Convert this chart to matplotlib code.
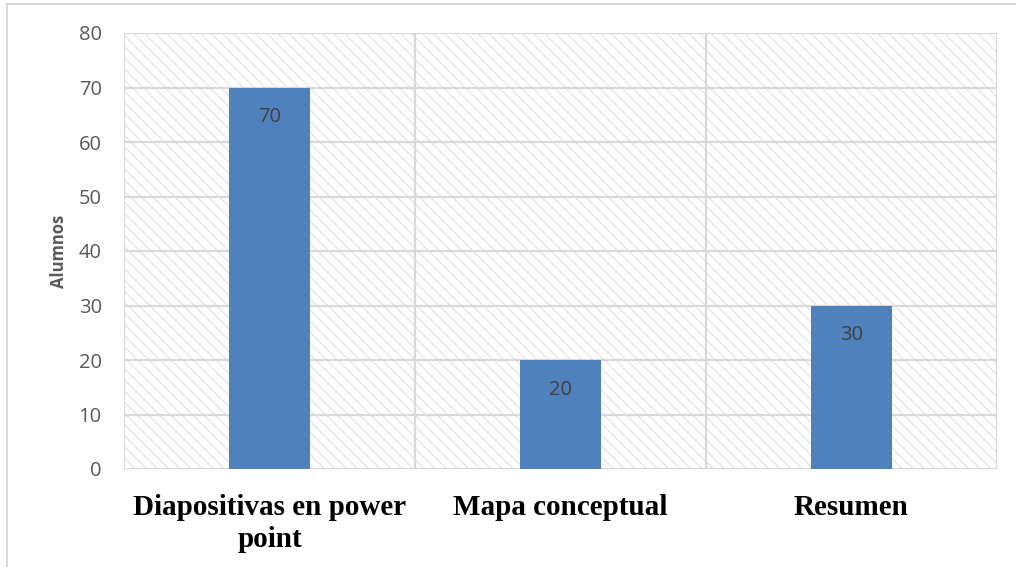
import matplotlib
matplotlib.use("Agg")
import matplotlib.pyplot as plt
from matplotlib.patches import Rectangle
from matplotlib.lines import Line2D
import numpy as np

categories = ["Diapositivas en power\npoint", "Mapa conceptual", "Resumen"]
values = [70, 20, 30]
yticks = [0, 10, 20, 30, 40, 50, 60, 70, 80]
ylabel = "Alumnos"

plt.rcParams['hatch.linewidth'] = 1.0
plt.rcParams['hatch.color'] = '#e6e6e6'

fig = plt.figure(figsize=(10.16, 5.67), dpi=100)
ax = fig.add_axes([124/1016, 1-469/567, (997-124)/1016, (469-33)/567])

x = np.arange(len(categories))
ax.set_xlim(-0.5, len(categories)-0.5)
ax.set_ylim(0, 80)

# hatched background
bg = Rectangle((0, 0), 1, 1, transform=ax.transAxes, facecolor='white',
               edgecolor='#e6e6e6', hatch='\\\\\\', linewidth=0, zorder=0)
ax.add_patch(bg)

ax.set_yticks(yticks)
ax.yaxis.grid(True, color='#d9d9d9', linewidth=1.6, zorder=1)
for b in np.arange(-0.5, len(categories), 1.0):
    ax.axvline(b, color='#d9d9d9', linewidth=1.6, zorder=1)
ax.set_axisbelow(True)

bars = ax.bar(x, values, width=0.275, color='#4F81BD', zorder=2)
for xi, v in zip(x, values):
    ax.text(xi, v - 3.6, str(v), ha='center', va='top', fontsize=14.5,
            family='Open Sans', color='#404040', zorder=3)

for s in ax.spines.values():
    s.set_visible(False)

ax.set_xticks(x)
ax.set_xticklabels(categories, family='Liberation Serif', fontweight='bold',
                   fontsize=21, color='black', linespacing=1.25)
ax.tick_params(axis='x', length=0, pad=18)
ax.tick_params(axis='y', length=0, pad=16, labelsize=14.5, labelcolor='#595959')
for lab in ax.get_yticklabels():
    lab.set_family('Open Sans')

ax.set_ylabel(ylabel, family='Open Sans', fontweight='bold', fontsize=12,
              color='#595959', labelpad=8)

# figure border
fig.add_artist(Line2D([7/1016, 7/1016], [0, 1-4/567], transform=fig.transFigure,
                      color='#d9d9d9', linewidth=1.5))
fig.add_artist(Line2D([7/1016, 1], [1-4/567, 1-4/567], transform=fig.transFigure,
                      color='#d9d9d9', linewidth=1.5))

fig.savefig('out.png', dpi=100)
